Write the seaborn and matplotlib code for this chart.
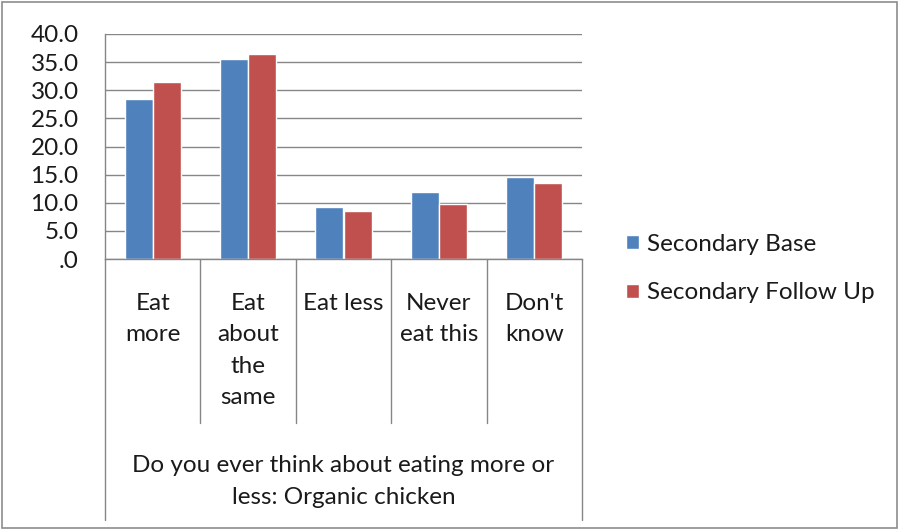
import pandas as pd
import matplotlib.pyplot as plt
import matplotlib.transforms as mtransforms
from matplotlib.patches import Rectangle
import seaborn as sns

categories = ['Eat\nmore', 'Eat\nabout\nthe\nsame', 'Eat less', 'Never\neat this', "Don't\nknow"]
series_names = ['Secondary Base', 'Secondary Follow Up']
base_values = [28.4, 35.5, 9.2, 12.0, 14.5]
followup_values = [31.4, 36.4, 8.5, 9.8, 13.6]
y_ticks = [0, 5, 10, 15, 20, 25, 30, 35, 40]
axis_title = 'Do you ever think about eating more or\nless: Organic chicken'

df = pd.DataFrame({
    'Category': categories * 2,
    'Series': [series_names[0]] * 5 + [series_names[1]] * 5,
    'Value': base_values + followup_values,
})

sns.set_style('white')
plt.rcParams['font.family'] = ['Lato', 'DejaVu Sans']
text_color = '#1a1a1a'
grid_color = '#868686'
fs = 17.5

fig = plt.figure(figsize=(9.01, 5.30), dpi=100)
ax = fig.add_axes([105 / 901, 1 - 259 / 530, 477 / 901, 225 / 530])

sns.barplot(data=df, x='Category', y='Value', hue='Series',
            palette=['#4F81BD', '#C0504D'], width=0.59, saturation=1,
            ax=ax, legend=True)

ax.set_ylim(0, 40)
ax.set_xlim(-0.5, 4.5)
ax.set_yticks(y_ticks)
ax.set_yticklabels(['.0' if v == 0 else '%.1f' % v for v in y_ticks],
                   fontsize=fs, color=text_color)
ax.tick_params(axis='y', direction='out', length=7, color=grid_color, pad=12)
ax.set_xticks([])
ax.set_xlabel('')
ax.set_ylabel('')
ax.yaxis.grid(True, color=grid_color, linewidth=1)
ax.set_axisbelow(True)
for side in ['top', 'right']:
    ax.spines[side].set_visible(False)
for side in ['left', 'bottom']:
    ax.spines[side].set_color(grid_color)
    ax.spines[side].set_linewidth(1)

# category separators below the axis
for i in range(6):
    xb = i / 5
    y_end = -1.16 if i in (0, 5) else -0.731
    ax.plot([xb, xb], [0, y_end], transform=ax.transAxes, color=grid_color,
            linewidth=1, clip_on=False)

trans = mtransforms.blended_transform_factory(ax.transData, ax.transAxes)
for i, cat in enumerate(categories):
    ax.text(i, -0.15, cat, transform=trans, ha='center', va='top',
            fontsize=fs, color=text_color, linespacing=1.62)

ax.text(0.5, -0.99, axis_title, transform=ax.transAxes, ha='center', va='center',
        fontsize=fs, color=text_color, linespacing=1.62)

handles, labels = ax.get_legend_handles_labels()
ax.legend(handles, labels, loc='center left', bbox_to_anchor=(626 / 901, 0.4934),
          bbox_transform=fig.transFigure, frameon=False, fontsize=fs,
          borderpad=0, borderaxespad=0,
          handlelength=0.55, handleheight=0.55, handletextpad=0.3,
          labelspacing=1.15, labelcolor=text_color)

fig.patches.append(Rectangle((0.002, 0.003), 0.994, 0.994, transform=fig.transFigure,
                             fill=False, edgecolor='#8c8c8c', linewidth=1.2))

fig.savefig('out.png', dpi=100)
